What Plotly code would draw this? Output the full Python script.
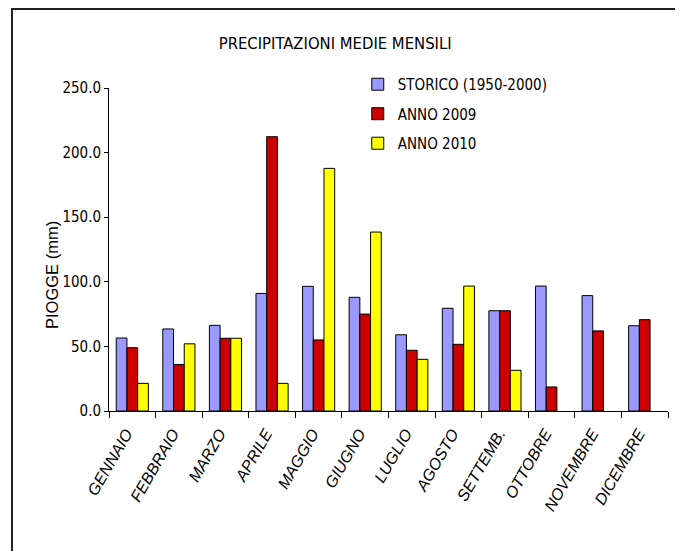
import plotly.graph_objects as go

months = ["GENNAIO", "FEBBRAIO", "MARZO", "APRILE", "MAGGIO", "GIUGNO",
          "LUGLIO", "AGOSTO", "SETTEMB.", "OTTOBRE", "NOVEMBRE", "DICEMBRE"]
storico = [56.5, 63.5, 66.3, 91.0, 96.5, 88.0, 59.0, 79.5, 77.6, 96.7, 89.3, 66.0]
anno_2009 = [49.0, 36.0, 56.3, 212.3, 55.0, 75.0, 47.0, 51.6, 77.6, 18.6, 62.0, 70.7]
anno_2010 = [21.4, 52.0, 56.3, 21.4, 187.8, 138.5, 40.0, 96.7, 31.5, None, None, None]
y_ticks = [0, 50, 100, 150, 200, 250]

NARROW = "Liberation Sans Narrow, Arial Narrow, DejaVu Sans Condensed, sans-serif"

fig = go.Figure()
series = [("STORICO (1950-2000)", storico, "#9999FF", "g1"),
          ("ANNO 2009", anno_2009, "#CC0000", "g2"),
          ("ANNO 2010", anno_2010, "#FFFF00", "g3")]
for name, vals, col, grp in series:
    fig.add_trace(go.Bar(x=months, y=vals, name=name, legendgroup=grp,
                         marker=dict(color=col, line=dict(color="#000000", width=1))))

fig.update_layout(
    width=683, height=551,
    margin=dict(l=101, r=23, t=80, b=148),
    paper_bgcolor="white", plot_bgcolor="white",
    barmode="group", bargap=0.31, bargroupgap=0,
    title=dict(text="PRECIPITAZIONI MEDIE MENSILI", x=0.479, xanchor="center",
               y=0.936, yanchor="middle",
               font=dict(family=NARROW, size=16.5, color="#000000")),
    legend=dict(x=0.445, y=1.062, xanchor="left", yanchor="top",
                font=dict(family=NARROW, size=15, color="#000000"),
                bgcolor="rgba(0,0,0,0)", traceorder="grouped", tracegroupgap=7),
    showlegend=True,
)
fig.update_xaxes(showline=True, linecolor="#000000", linewidth=1,
                 ticks="outside", tickson="boundaries", ticklen=6, tickcolor="#000000",
                 tickangle=-60, ticklabelstandoff=6, ticklabelshift=-6,
                 tickfont=dict(family="Liberation Sans, Arial, sans-serif", size=16,
                               color="#000000", style="italic"),
                 showgrid=False)
fig.update_yaxes(range=[0, 250], tickvals=y_ticks, tickformat=".1f",
                 showline=True, linecolor="#000000", linewidth=1,
                 ticks="outside", ticklen=4, tickcolor="#000000",
                 tickfont=dict(family=NARROW, size=15, color="#000000"),
                 showgrid=False, zeroline=False)

fig.add_annotation(text="PIOGGE (mm)", xref="paper", yref="paper",
                   x=-0.102, y=0.421, xanchor="center", yanchor="middle",
                   textangle=-90, showarrow=False,
                   font=dict(family="Liberation Sans, Arial, sans-serif", size=16.5, color="#000000"))

fig.add_shape(type="rect", xref="paper", yref="paper",
              x0=-0.1735, x1=1.0197, y0=-0.6, y1=1.2446,
              line=dict(color="#222222", width=2), fillcolor="rgba(0,0,0,0)", layer="below")

fig.write_html("out.html")
